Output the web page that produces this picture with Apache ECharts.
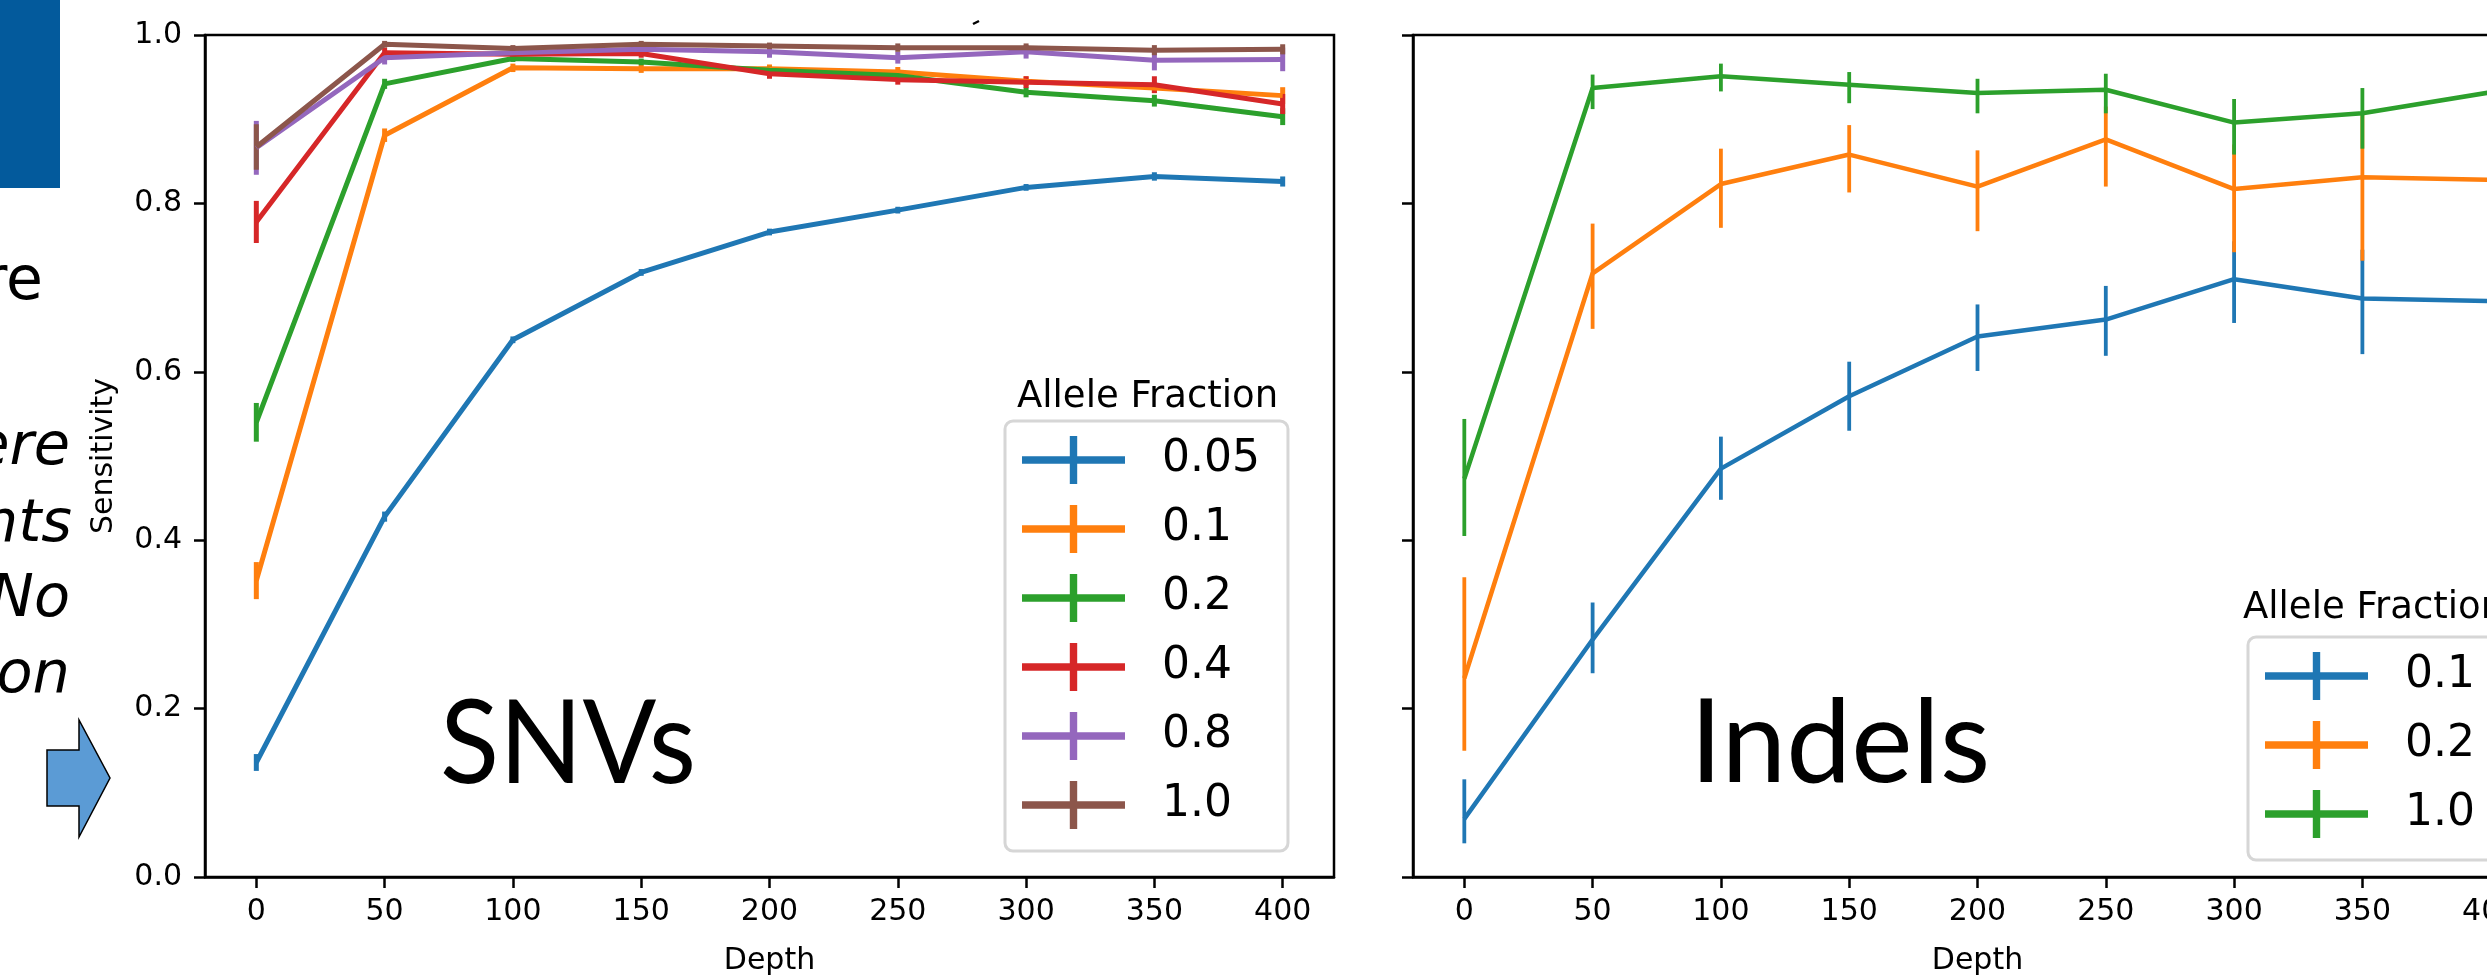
<!DOCTYPE html>
<html>
<head>
<meta charset="utf-8">
<script src="https://cdn.jsdelivr.net/npm/echarts@6/dist/echarts.min.js"></script>
<style>
  html, body { margin: 0; padding: 0; background: #fff; }
  #chart { width: 2487px; height: 976px; }
</style>
</head>
<body>
<div id="chart"></div>
<script>
const depths = [0, 50, 100, 150, 200, 250, 300, 350, 400];
const depthTicks = [0, 50, 100, 150, 200, 250, 300, 350, 400];
const sensTicks = [0, 0.2, 0.4, 0.6, 0.8, 1.0];

// SNVs: mean sensitivity and half-width of the error bar
const snvFractions = ['0.05', '0.1', '0.2', '0.4', '0.8', '1.0'];
const snv005 = [0.136, 0.428, 0.638, 0.718, 0.766, 0.792, 0.819, 0.832, 0.826];
const snv01  = [0.352, 0.881, 0.961, 0.960, 0.960, 0.956, 0.945, 0.937, 0.928];
const snv02  = [0.540, 0.942, 0.972, 0.968, 0.958, 0.952, 0.932, 0.922, 0.903];
const snv04  = [0.778, 0.979, 0.977, 0.978, 0.954, 0.947, 0.944, 0.941, 0.918];
const snv08  = [0.866, 0.973, 0.979, 0.983, 0.980, 0.973, 0.980, 0.970, 0.971];
const snv10  = [0.867, 0.989, 0.984, 0.989, 0.987, 0.985, 0.985, 0.982, 0.983];
const snv005Err = [0.010, 0.006, 0.004, 0.004, 0.004, 0.004, 0.004, 0.005, 0.006];
const snv01Err  = [0.022, 0.008, 0.005, 0.005, 0.005, 0.006, 0.006, 0.006, 0.010];
const snv02Err  = [0.023, 0.006, 0.004, 0.004, 0.005, 0.005, 0.006, 0.007, 0.010];
const snv04Err  = [0.025, 0.006, 0.005, 0.005, 0.006, 0.006, 0.007, 0.010, 0.012];
const snv08Err  = [0.032, 0.008, 0.006, 0.006, 0.007, 0.007, 0.008, 0.012, 0.014];
const snv10Err  = [0.027, 0.004, 0.004, 0.004, 0.004, 0.005, 0.005, 0.006, 0.006];

// Indels: mean, lower and upper end of the error bar
const indelFractions = ['0.1', '0.2', '1.0'];
const indel01   = [0.069, 0.282, 0.485, 0.571, 0.642, 0.662, 0.710, 0.687, 0.684];
const indel01Lo = [0.040, 0.242, 0.448, 0.530, 0.601, 0.619, 0.658, 0.621, 0.640];
const indel01Hi = [0.116, 0.326, 0.523, 0.612, 0.680, 0.702, 0.755, 0.745, 0.730];
const indel02   = [0.236, 0.717, 0.823, 0.858, 0.820, 0.876, 0.817, 0.831, 0.828];
const indel02Lo = [0.150, 0.651, 0.771, 0.813, 0.767, 0.820, 0.742, 0.732, 0.750];
const indel02Hi = [0.356, 0.776, 0.865, 0.893, 0.863, 0.915, 0.870, 0.905, 0.890];
const indel10   = [0.473, 0.937, 0.951, 0.941, 0.931, 0.935, 0.896, 0.907, 0.932];
const indel10Lo = [0.405, 0.912, 0.933, 0.919, 0.907, 0.907, 0.858, 0.865, 0.905];
const indel10Hi = [0.544, 0.953, 0.966, 0.956, 0.948, 0.954, 0.924, 0.937, 0.955];

const colors = ['#1f77b4', '#ff7f0e', '#2ca02c', '#d62728', '#9467bd', '#8c564b'];
const FONT = 'DejaVu Sans';
// errorbar legend handle: horizontal line crossed by a vertical bar
const crossIcon = 'path://M0,20.25H103V27.75H0Z M47.8,0H55.2V48H47.8Z';

function errSeries(name, lo, hi, color, idx, width) {
  return {
    type: 'custom',
    name: name,
    xAxisIndex: idx,
    yAxisIndex: idx,
    itemStyle: { color: color },
    data: depths.map((d, i) => [d, lo[i], hi[i]]),
    encode: { x: 0, y: [1, 2] },
    renderItem: function (params, api) {
      const a = api.coord([api.value(0), api.value(1)]);
      const b = api.coord([api.value(0), api.value(2)]);
      return {
        type: 'line',
        shape: { x1: a[0], y1: a[1], x2: b[0], y2: b[1] },
        style: { stroke: color, lineWidth: width }
      };
    }
  };
}

function lineSeries(name, vals, color, idx, width) {
  return {
    type: 'line',
    name: name,
    xAxisIndex: idx,
    yAxisIndex: idx,
    showSymbol: false,
    itemStyle: { color: color },
    lineStyle: { color: color, width: width },
    data: depths.map((d, i) => [d, vals[i]])
  };
}

const snvVals = [snv005, snv01, snv02, snv04, snv08, snv10];
const snvErrs = [snv005Err, snv01Err, snv02Err, snv04Err, snv08Err, snv10Err];
const indelVals = [indel01, indel02, indel10];
const indelLo = [indel01Lo, indel02Lo, indel10Lo];
const indelHi = [indel01Hi, indel02Hi, indel10Hi];

const series = [];
snvFractions.forEach((f, k) => {
  const lo = snvVals[k].map((v, i) => v - snvErrs[k][i]);
  const hi = snvVals[k].map((v, i) => v + snvErrs[k][i]);
  series.push(errSeries(f, lo, hi, colors[k], 0, 5));
  series.push(lineSeries(f, snvVals[k], colors[k], 0, 5));
});
indelFractions.forEach((f, k) => {
  const name = 'Indel ' + f;
  series.push(errSeries(name, indelLo[k], indelHi[k], colors[k], 1, 3.8));
  series.push(lineSeries(name, indelVals[k], colors[k], 1, 4.5));
});

function xAxisFor(idx) {
  return {
    type: 'value',
    gridIndex: idx,
    min: -20,
    max: 420,
    name: 'Depth',
    nameLocation: 'middle',
    nameGap: 69,
    nameTextStyle: { fontFamily: FONT, fontSize: 30, color: '#000' },
    axisLine: { onZero: false, lineStyle: { color: '#000', width: 2.5 } },
    axisTick: { show: true, length: 11, lineStyle: { color: '#000', width: 2.5 }, customValues: depthTicks },
    axisLabel: { fontFamily: FONT, fontSize: 30, color: '#000', margin: 20, customValues: depthTicks },
    splitLine: { show: false }
  };
}

function yAxisFor(idx) {
  return {
    type: 'value',
    gridIndex: idx,
    min: 0,
    max: 1,
    interval: 0.2,
    name: idx === 0 ? 'Sensitivity' : '',
    nameLocation: 'middle',
    nameGap: 86,
    nameTextStyle: { fontFamily: FONT, fontSize: 30, color: '#000' },
    axisLine: { show: true, onZero: false, lineStyle: { color: '#000', width: 2.5 } },
    axisTick: { show: true, length: 11, lineStyle: { color: '#000', width: 2.5 }, customValues: sensTicks },
    axisLabel: {
      show: idx === 0, fontFamily: FONT, fontSize: 30, color: '#000', margin: 23,
      customValues: sensTicks,
      formatter: v => v.toFixed(1)
    },
    splitLine: { show: false }
  };
}

function legendFor(names, left, top, ids) {
  return {
    orient: 'vertical',
    left: left,
    top: top,
    selectedMode: false,
    itemWidth: 103,
    itemHeight: 48,
    itemGap: 21,
    padding: [15, 28, 22, 17],
    backgroundColor: '#fff',
    borderColor: '#d6d6d6',
    borderWidth: 3,
    borderRadius: 8,
    formatter: n => n.replace('Indel ', ''),
    textStyle: { fontFamily: FONT, fontSize: 44, color: '#000', lineHeight: 48, padding: [0, 0, 0, 32] },
    data: names.map((n, k) => ({ name: n, icon: crossIcon, itemStyle: { color: colors[ids[k]] } }))
  };
}

const chart = echarts.init(document.getElementById('chart'), null, { renderer: 'canvas' });

const option = {
  animation: false,
  backgroundColor: '#fff',
  grid: [
    { left: 205, top: 35, width: 1129, height: 842, show: true, borderColor: '#000', borderWidth: 2.5, outerBoundsMode: 'none' },
    { left: 1413, top: 35, width: 1129, height: 842, show: true, borderColor: '#000', borderWidth: 2.5, outerBoundsMode: 'none' }
  ],
  xAxis: [xAxisFor(0), xAxisFor(1)],
  yAxis: [yAxisFor(0), yAxisFor(1)],
  legend: [
    legendFor(snvFractions, 1005, 421, [0, 1, 2, 3, 4, 5]),
    legendFor(indelFractions.map(f => 'Indel ' + f), 2248, 637, [0, 1, 2])
  ],
  series: series,
  graphic: [
    // slide leftovers around the figure
    { type: 'rect', shape: { x: 0, y: 0, width: 60, height: 188 }, style: { fill: '#035a9c' } },
    { type: 'text', style: { text: 're', x: 43, y: 283, align: 'right', verticalAlign: 'middle', font: '60px "DejaVu Sans"', fill: '#000' } },
    { type: 'text', style: { text: 'ere', x: 70, y: 449, align: 'right', verticalAlign: 'middle', font: 'italic 59px "DejaVu Sans"', fill: '#000' } },
    { type: 'text', style: { text: 'nts', x: 72, y: 526, align: 'right', verticalAlign: 'middle', font: 'italic 59px "DejaVu Sans"', fill: '#000' } },
    { type: 'text', style: { text: 'No', x: 70, y: 601, align: 'right', verticalAlign: 'middle', font: 'italic 59px "DejaVu Sans"', fill: '#000' } },
    { type: 'text', style: { text: 'on', x: 70, y: 677, align: 'right', verticalAlign: 'middle', font: 'italic 59px "DejaVu Sans"', fill: '#000' } },
    {
      type: 'polygon',
      shape: { points: [[47, 750], [79, 750], [79, 720], [110, 778], [79, 837], [79, 806], [47, 806]] },
      style: { fill: '#5b9bd5', stroke: '#000', lineWidth: 1.5 }
    },
    { type: 'line', shape: { x1: 973, y1: 24, x2: 979, y2: 21 }, style: { stroke: '#000', lineWidth: 2.5 } },
    // panel captions
    { type: 'text', x: 440, scaleX: 0.94, style: { text: 'SNVs', x: 0, y: 746, verticalAlign: 'middle', font: '116px Lato', fill: '#000' } },
    { type: 'text', style: { text: 'Indels', x: 1690, y: 745, verticalAlign: 'middle', font: '116px Lato', fill: '#000' } },
    // legend titles
    { type: 'text', style: { text: 'Allele Fraction', x: 1017, y: 397, verticalAlign: 'middle', font: '37px "DejaVu Sans"', fill: '#000' } },
    { type: 'text', style: { text: 'Allele Fraction', x: 2243, y: 608, verticalAlign: 'middle', font: '37px "DejaVu Sans"', fill: '#000' } }
  ]
};

chart.setOption(option);
</script>
</body>
</html>
